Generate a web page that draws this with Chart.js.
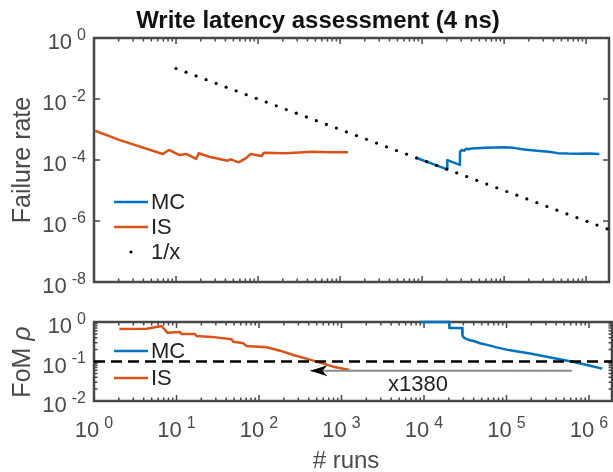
<!DOCTYPE html>
<html>
<head>
<meta charset="utf-8">
<title>Write latency assessment</title>
<script src="https://cdn.jsdelivr.net/npm/chart.js@4.4.1/dist/chart.umd.min.js"></script>
<style>
  html, body { margin: 0; padding: 0; background: #fff; }
  #wrap { position: relative; width: 613px; height: 472px; overflow: hidden; }
  canvas { position: absolute; left: 0; }
  #rateCanvas { top: 0; }
  #fomCanvas { top: 300px; }
</style>
</head>
<body>
<div id="wrap">
  <canvas id="rateCanvas" width="613" height="300"></canvas>
  <canvas id="fomCanvas" width="613" height="172"></canvas>
</div>
<script>
// ---- data ----
const X_MIN = 1;
const X_MAX = 1.9e6;
const xTickExps = [0, 1, 2, 3, 4, 5, 6];
const rateTickExps = [0, -2, -4, -6, -8];
const fomTickExps = [0, -1, -2];

// failure rate, Monte Carlo
const mcRunsTop = [8770, 20280, 20300, 28900, 29000, 30500, 32500, 34500, 37000, 40000, 47600, 60000, 80000, 100000, 130000, 176000, 250000, 350000, 450000, 600000, 800000, 1100000, 1450000];
const mcRateTop = [1.14e-4, 4.93e-5, 9.85e-5, 6.92e-5, 1.85e-4, 2.15e-4, 2.0e-4, 2.35e-4, 2.25e-4, 2.4e-4, 2.45e-4, 2.5e-4, 2.55e-4, 2.6e-4, 2.5e-4, 2.2e-4, 2.0e-4, 1.85e-4, 1.68e-4, 1.62e-4, 1.6e-4, 1.62e-4, 1.58e-4];

// failure rate, importance sampling
const isRunsTop = [1.03, 2.07, 6.9, 8.2, 11, 13.3, 17.6, 18.9, 25.4, 42.4, 46.6, 57.8, 70.6, 81.4, 110.5, 118, 216, 455, 796, 1250];
const isRateTop = [9.1e-4, 4.5e-4, 1.58e-4, 2.13e-4, 1.45e-4, 1.58e-4, 1.08e-4, 1.66e-4, 1.28e-4, 9.5e-5, 1.05e-4, 8.4e-5, 1.13e-4, 1.58e-4, 1.35e-4, 1.74e-4, 1.66e-4, 1.87e-4, 1.8e-4, 1.8e-4];

// 1/x reference dots
const refRuns = [10, 13.25, 17.56, 23.26, 30.82, 40.83, 54.1, 71.7, 95.0, 125.8, 166.7, 220.9, 292.7, 387.8, 513.8, 680.8, 902, 1195, 1584, 2098, 2780, 3684, 4881, 6467, 8569, 11350, 15040, 19930, 26410, 34990, 46360, 61430, 81400, 107800, 142900, 189200, 250700, 332200, 440200, 583200, 772700, 1024000, 1356000, 1797000];
const refRate = [0.1, 0.0755, 0.0569, 0.043, 0.0324, 0.0245, 0.0185, 0.0139, 0.0105, 0.00795, 0.006, 0.00453, 0.00342, 0.00258, 0.00195, 0.00147, 0.00111, 8.37e-4, 6.31e-4, 4.77e-4, 3.6e-4, 2.71e-4, 2.05e-4, 1.55e-4, 1.17e-4, 8.81e-5, 6.65e-5, 5.02e-5, 3.79e-5, 2.86e-5, 2.16e-5, 1.63e-5, 1.23e-5, 9.28e-6, 7.0e-6, 5.29e-6, 3.99e-6, 3.01e-6, 2.27e-6, 1.71e-6, 1.29e-6, 9.77e-7, 7.37e-7, 5.56e-7];

// figure of merit
const mcRunsFom = [8770, 20280, 20300, 28900, 29300, 30500, 33000, 37000, 40000, 47600, 60000, 76000, 100000, 120000, 193000, 307000, 490000, 700000, 1000000, 1450000];
const mcFom = [1.0, 1.0, 0.707, 0.707, 0.45, 0.4, 0.37, 0.34, 0.33, 0.29, 0.26, 0.228, 0.2, 0.188, 0.16, 0.132, 0.109, 0.094, 0.079, 0.066];
const isRunsFom = [2.03, 4.35, 6.6, 7.74, 11, 11.5, 16.7, 17.6, 26.7, 46.6, 48.8, 64.6, 70.6, 124, 180, 260, 457, 796, 1250];
const isFom = [0.665, 0.676, 0.79, 0.537, 0.56, 0.497, 0.497, 0.44, 0.42, 0.364, 0.318, 0.288, 0.247, 0.229, 0.188, 0.146, 0.105, 0.074, 0.061];

const targetRuns = [X_MIN, X_MAX];
const targetFom = [0.1, 0.1];
const arrowRuns = [620000, 420];
const arrowFom = [0.058, 0.058];
const noteText = 'x1380';
const noteRuns = 8460;
const noteFom = 0.0254;

// ---- styling ----
const MC_COLOR = '#0072BD';
const IS_COLOR = '#D95319';
const AXIS_COLOR = '#474747';
const TEXT_COLOR = '#4a4a4a';
const FONT = '"Liberation Sans", Arial, sans-serif';
const MAJOR_LEN = 6;
const MINOR_LEN = 3.5;

const toPoints = (xs, ys) => xs.map((x, i) => ({ x: x, y: ys[i] }));

const lineSet = (label, xs, ys, color, order) => ({
  label: label,
  data: toPoints(xs, ys),
  showLine: true,
  borderColor: color,
  backgroundColor: color,
  borderWidth: 2.5,
  pointRadius: 0,
  borderJoinStyle: 'round',
  order: order,
  clip: 4,
});

const drawPow10 = (ctx, exp, x, y, align) => {
  ctx.font = `22px ${FONT}`;
  const wb = ctx.measureText('10').width;
  ctx.font = `16px ${FONT}`;
  const ws = ctx.measureText(String(exp)).width;
  const gap = 5;
  const total = wb + gap + ws;
  const left = align === 'right' ? x - total : x - total / 2;
  ctx.textAlign = 'left';
  ctx.textBaseline = 'alphabetic';
  ctx.font = `22px ${FONT}`;
  ctx.fillText('10', left, y);
  ctx.font = `16px ${FONT}`;
  ctx.fillText(String(exp), left + wb + gap, y - 9.5);
};

// MATLAB-like box with inward ticks on all four sides
const makeFrame = (yExps, yMinor, showXLabels) => ({
  id: 'frame',
  beforeDatasetsDraw(chart) {
    const { ctx, chartArea: a, scales } = chart;
    const xs = scales.x;
    const ys = scales.y;
    ctx.save();
    ctx.strokeStyle = AXIS_COLOR;
    ctx.lineWidth = 1.5;
    ctx.beginPath();
    xTickExps.forEach((e) => {
      for (let m = 1; m <= 9; m++) {
        const v = m * Math.pow(10, e);
        if (v < X_MIN || v > X_MAX) continue;
        const px = xs.getPixelForValue(v);
        const len = m === 1 ? MAJOR_LEN : MINOR_LEN;
        ctx.moveTo(px, a.top);
        ctx.lineTo(px, a.top + len);
        ctx.moveTo(px, a.bottom);
        ctx.lineTo(px, a.bottom - len);
      }
    });
    yExps.forEach((e) => {
      const py = ys.getPixelForValue(Math.pow(10, e));
      ctx.moveTo(a.left, py);
      ctx.lineTo(a.left + MAJOR_LEN, py);
      ctx.moveTo(a.right, py);
      ctx.lineTo(a.right - MAJOR_LEN, py);
      if (yMinor && e < yExps[0]) {
        for (let m = 2; m <= 9; m++) {
          const q = ys.getPixelForValue(m * Math.pow(10, e));
          ctx.moveTo(a.left, q);
          ctx.lineTo(a.left + MINOR_LEN, q);
          ctx.moveTo(a.right, q);
          ctx.lineTo(a.right - MINOR_LEN, q);
        }
      }
    });
    ctx.stroke();
    ctx.lineWidth = 2.5;
    ctx.strokeRect(a.left, a.top, a.right - a.left, a.bottom - a.top);

    ctx.fillStyle = TEXT_COLOR;
    yExps.forEach((e) => {
      drawPow10(ctx, e, a.left - 8, ys.getPixelForValue(Math.pow(10, e)) + 11, 'right');
    });
    if (showXLabels) {
      xTickExps.forEach((e) => {
        drawPow10(ctx, e, xs.getPixelForValue(Math.pow(10, e)), a.bottom + 36, 'center');
      });
    }
    ctx.restore();
  },
});

// legend without a box, inside the axes
const makeLegend = (rows) => ({
  id: 'insideLegend',
  afterDraw(chart) {
    const { ctx } = chart;
    ctx.save();
    rows.forEach((row) => {
      const ds = chart.data.datasets[row.index];
      if (ds.showLine) {
        ctx.strokeStyle = ds.borderColor;
        ctx.lineWidth = 2.5;
        ctx.beginPath();
        ctx.moveTo(114, row.y);
        ctx.lineTo(148, row.y);
        ctx.stroke();
      } else {
        ctx.fillStyle = ds.pointBackgroundColor;
        ctx.beginPath();
        ctx.arc(131, row.y, 1.6, 0, Math.PI * 2);
        ctx.fill();
      }
      ctx.fillStyle = '#222';
      ctx.font = `22px ${FONT}`;
      ctx.textAlign = 'left';
      ctx.textBaseline = 'middle';
      ctx.fillText(ds.label, 151, row.y + 1);
    });
    ctx.restore();
  },
});

const makeTexts = (items) => ({
  id: 'texts',
  afterDraw(chart) {
    const { ctx } = chart;
    items.forEach((t) => {
      ctx.save();
      ctx.translate(t.x, t.y);
      if (t.rotate) ctx.rotate(-Math.PI / 2);
      ctx.textBaseline = 'alphabetic';
      ctx.fillStyle = t.color || TEXT_COLOR;
      if (t.parts) {
        let total = 0;
        t.parts.forEach((p) => { ctx.font = p.font; total += ctx.measureText(p.text).width; });
        let cx = -total / 2;
        ctx.textAlign = 'left';
        t.parts.forEach((p) => {
          ctx.font = p.font;
          ctx.fillText(p.text, cx, 0);
          cx += ctx.measureText(p.text).width;
        });
      } else {
        ctx.font = t.font;
        ctx.textAlign = 'center';
        ctx.fillText(t.text, 0, 0);
      }
      ctx.restore();
    });
  },
});

const arrowNote = {
  id: 'arrowNote',
  afterDatasetsDraw(chart) {
    const { ctx, scales } = chart;
    const tipX = scales.x.getPixelForValue(arrowRuns[1]);
    const tipY = scales.y.getPixelForValue(arrowFom[1]);
    ctx.save();
    ctx.fillStyle = '#000';
    ctx.beginPath();
    ctx.moveTo(tipX, tipY);
    ctx.lineTo(tipX + 17, tipY - 5.5);
    ctx.lineTo(tipX + 12, tipY);
    ctx.lineTo(tipX + 17, tipY + 5.5);
    ctx.closePath();
    ctx.fill();
    ctx.fillStyle = '#222';
    ctx.font = `22px ${FONT}`;
    ctx.textAlign = 'center';
    ctx.textBaseline = 'middle';
    ctx.fillText(noteText, scales.x.getPixelForValue(noteRuns), scales.y.getPixelForValue(noteFom));
    ctx.restore();
  },
};

const baseOptions = (yMin, yMax, padding) => ({
  responsive: false,
  animation: false,
  events: [],
  layout: { padding: padding },
  scales: {
    x: { type: 'logarithmic', min: X_MIN, max: X_MAX, display: false },
    y: { type: 'logarithmic', min: yMin, max: yMax, display: false },
  },
  plugins: { legend: { display: false }, tooltip: { enabled: false } },
});

// ---- upper panel: failure rate ----
new Chart(document.querySelector('#rateCanvas'), {
  type: 'scatter',
  data: {
    datasets: [
      lineSet('MC', mcRunsTop, mcRateTop, MC_COLOR, 1),
      lineSet('IS', isRunsTop, isRateTop, IS_COLOR, 2),
      {
        label: '1/x',
        data: toPoints(refRuns, refRate),
        showLine: false,
        pointRadius: 1.6,
        pointBorderWidth: 0,
        pointBackgroundColor: '#000',
        order: 0,
      },
    ],
  },
  options: baseOptions(1e-8, 1, { top: 38, left: 94, right: 1, bottom: 18 }),
  plugins: [
    makeFrame(rateTickExps, false, false),
    makeLegend([{ index: 0, y: 202 }, { index: 1, y: 227 }, { index: 2, y: 252 }]),
    makeTexts([
      { text: 'Write latency assessment (4 ns)', x: 318, y: 28, font: `bold 24px ${FONT}`, color: '#111' },
      { text: 'Failure rate', x: 30, y: 160, rotate: true, font: `25px ${FONT}` },
    ]),
  ],
});

// ---- lower panel: figure of merit ----
new Chart(document.querySelector('#fomCanvas'), {
  type: 'scatter',
  data: {
    datasets: [
      lineSet('MC', mcRunsFom, mcFom, MC_COLOR, 2),
      lineSet('IS', isRunsFom, isFom, IS_COLOR, 3),
      Object.assign(lineSet('target', targetRuns, targetFom, '#000', 0), { borderDash: [11, 6], borderJoinStyle: 'miter' }),
      Object.assign(lineSet('speed-up', arrowRuns, arrowFom, '#8c8c8c', 1), { borderWidth: 2 }),
    ],
  },
  options: baseOptions(0.01, 1, { top: 22, left: 94, right: 1, bottom: 71 }),
  plugins: [
    makeFrame(fomTickExps, true, true),
    arrowNote,
    makeLegend([{ index: 0, y: 51 }, { index: 1, y: 78 }]),
    makeTexts([
      { x: 30, y: 62, rotate: true, parts: [{ text: 'FoM ', font: `25px ${FONT}` }, { text: 'ρ', font: `italic 25px ${FONT}` }] },
      { text: '# runs', x: 346, y: 168, font: `24px ${FONT}` },
    ]),
  ],
});
</script>
</body>
</html>
